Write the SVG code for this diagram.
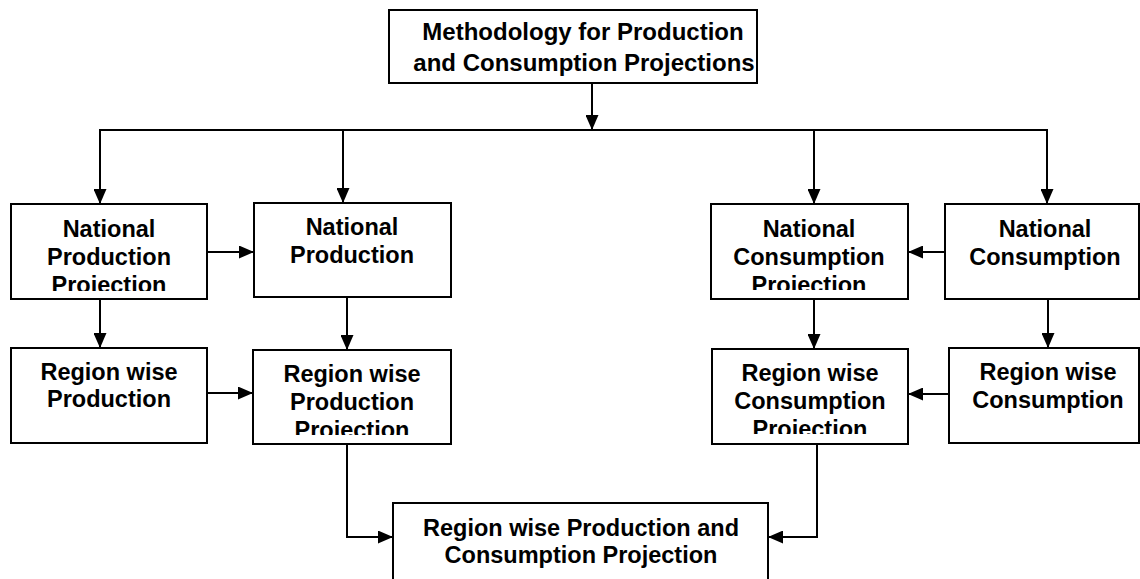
<svg xmlns="http://www.w3.org/2000/svg" width="1140" height="579" viewBox="0 0 1140 579">
<style>
.box{fill:#fff;stroke:#000;stroke-width:2}
.t{font-family:"Liberation Sans",Arial,sans-serif;font-weight:bold;font-size:23.5px;text-anchor:middle;fill:#000}
.c{fill:none;stroke:#000;stroke-width:2}
</style>
<defs>
<marker id="ah" markerUnits="userSpaceOnUse" markerWidth="15" markerHeight="13" refX="14" refY="6.5" orient="auto">
<path d="M0,0 L15,6.5 L0,13 z" fill="#000"/>
</marker>
<clipPath id="cp1"><rect x="11" y="204" width="196" height="87"/></clipPath>
<clipPath id="cp3"><rect x="711" y="204" width="197" height="86"/></clipPath>
<clipPath id="cp6"><rect x="253" y="350" width="198" height="85"/></clipPath>
<clipPath id="cp7"><rect x="712" y="349" width="196" height="85"/></clipPath>
</defs>
<rect width="1140" height="579" fill="#fff"/>
<g id="connectors">
<path class="c" d="M592,83 V129" marker-end="url(#ah)"/>
<path class="c" d="M99,130 H1048"/>
<path class="c" d="M100,130 V203" marker-end="url(#ah)"/>
<path class="c" d="M343,130 V202" marker-end="url(#ah)"/>
<path class="c" d="M814,130 V203" marker-end="url(#ah)"/>
<path class="c" d="M1047,130 V203" marker-end="url(#ah)"/>
<path class="c" d="M207,252 H253" marker-end="url(#ah)"/>
<path class="c" d="M945,252 H909" marker-end="url(#ah)"/>
<path class="c" d="M100,299 V347" marker-end="url(#ah)"/>
<path class="c" d="M347,297 V349" marker-end="url(#ah)"/>
<path class="c" d="M814,299 V348" marker-end="url(#ah)"/>
<path class="c" d="M1048,299 V347" marker-end="url(#ah)"/>
<path class="c" d="M207,393 H252" marker-end="url(#ah)"/>
<path class="c" d="M949,394 H909" marker-end="url(#ah)"/>
<path class="c" d="M347,444 V537 H392" marker-end="url(#ah)"/>
<path class="c" d="M817,444 V537 H769" marker-end="url(#ah)"/>
</g>
<g id="top">
<rect class="box" x="389" y="10" width="368" height="73"/>
<text class="t" style="font-size:24px" x="583" y="40">Methodology for Production</text>
<text class="t" style="font-size:24px" x="584" y="71">and Consumption Projections</text>
</g>
<g id="natProdProj">
<rect class="box" x="11" y="204" width="196" height="95"/>
<g clip-path="url(#cp1)">
<text class="t" x="109" y="237">National</text>
<text class="t" x="109" y="265">Production</text>
<text class="t" x="109" y="293">Projection</text>
</g>
</g>
<g id="natProd">
<rect class="box" x="254" y="203" width="197" height="94"/>
<text class="t" x="352" y="235">National</text>
<text class="t" x="352" y="263">Production</text>
</g>
<g id="natConsProj">
<rect class="box" x="711" y="204" width="197" height="95"/>
<g clip-path="url(#cp3)">
<text class="t" x="809" y="237">National</text>
<text class="t" x="809" y="265">Consumption</text>
<text class="t" x="809" y="293">Projection</text>
</g>
</g>
<g id="natCons">
<rect class="box" x="945" y="204" width="194" height="95"/>
<text class="t" x="1045" y="237">National</text>
<text class="t" x="1045" y="265">Consumption</text>
</g>
<g id="regProd">
<rect class="box" x="11" y="348" width="196" height="95"/>
<text class="t" x="109" y="380">Region wise</text>
<text class="t" x="109" y="407">Production</text>
</g>
<g id="regProdProj">
<rect class="box" x="253" y="350" width="198" height="94"/>
<g clip-path="url(#cp6)">
<text class="t" x="352" y="382">Region wise</text>
<text class="t" x="352" y="410">Production</text>
<text class="t" x="352" y="438">Projection</text>
</g>
</g>
<g id="regConsProj">
<rect class="box" x="712" y="349" width="196" height="95"/>
<g clip-path="url(#cp7)">
<text class="t" x="810" y="381">Region wise</text>
<text class="t" x="810" y="409">Consumption</text>
<text class="t" x="810" y="437">Projection</text>
</g>
</g>
<g id="regCons">
<rect class="box" x="949" y="348" width="190" height="95"/>
<text class="t" x="1048" y="380">Region wise</text>
<text class="t" x="1048" y="408">Consumption</text>
</g>
<g id="final">
<rect class="box" x="393" y="503" width="375" height="80"/>
<text class="t" x="581" y="536">Region wise Production and</text>
<text class="t" x="581" y="563">Consumption Projection</text>
</g>
</svg>
